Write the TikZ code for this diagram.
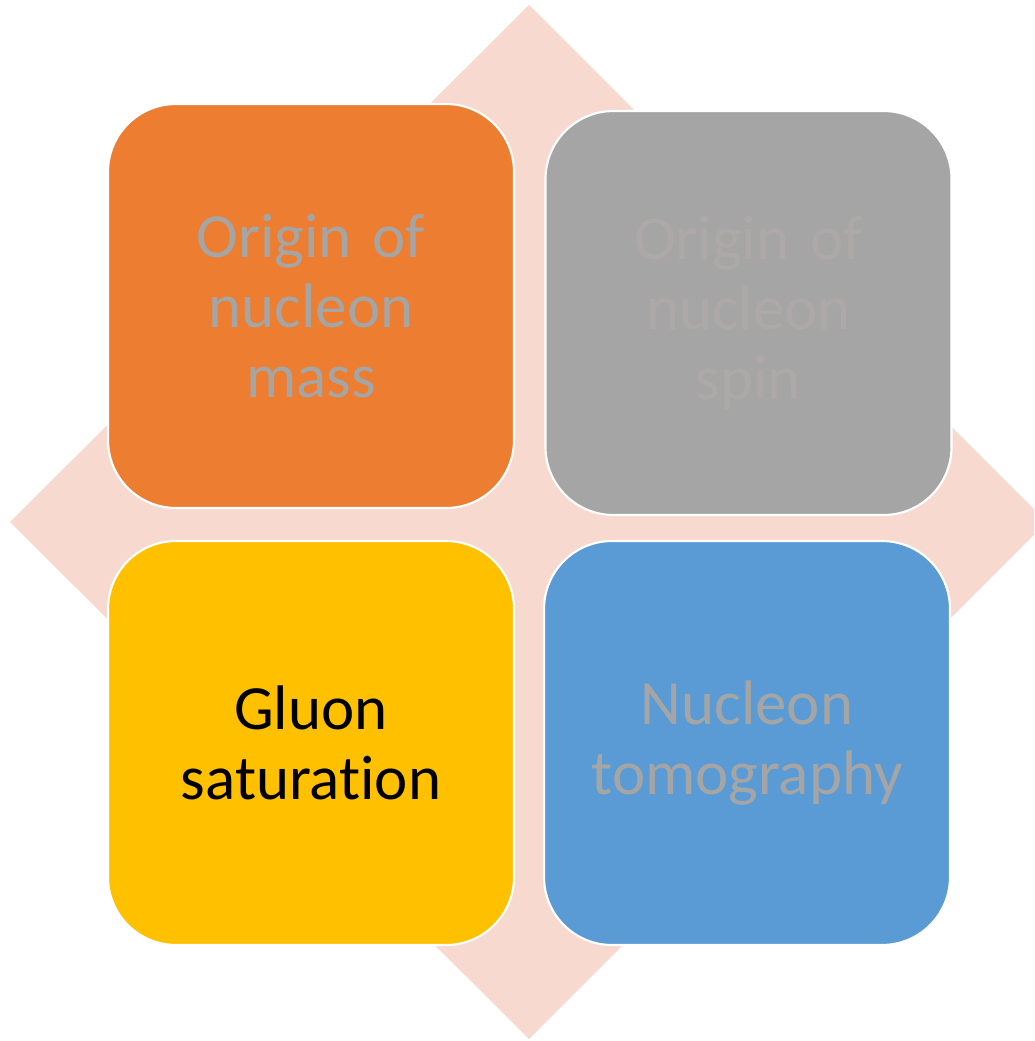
\documentclass[tikz,border=0pt]{standalone}
\usepackage{fontspec}
\setmainfont[Ligatures=NoCommon,WordSpace=0.85]{Carlito}
\definecolor{diam}{HTML}{F8D9CF}
\definecolor{orng}{HTML}{ED7D31}
\definecolor{gry}{HTML}{A5A5A5}
\definecolor{yel}{HTML}{FFC000}
\definecolor{blu}{HTML}{5B9BD5}
\definecolor{txtgray}{HTML}{A5A5A5}
\definecolor{txtgray2}{HTML}{AEA9A9}
\begin{document}
\begin{tikzpicture}[x=0.75pt,y=-0.75pt,
  tile/.style={draw=white,line width=1.6pt,rounded corners=51pt,
    minimum width=304.5pt,minimum height=303pt,text width=290pt,align=center,
    font=\fontsize{47.2pt}{52.5pt}\selectfont,inner sep=0pt}]
\useasboundingbox (0,0) rectangle (1034,1041);
\begin{scope}
\clip (0,0) rectangle (1034,1041);
\fill[diam] (529,5) -- (1047,522) -- (529,1039) -- (10,522) -- cycle;
\end{scope}
\node[tile,fill=orng,text=txtgray] (mass) at (311,306) {Origin of\\nucleon\\mass};
\node[tile,fill=gry,text=txtgray2] (spin) at (748.5,313) {Origin of\\nucleon\\spin};
\node[tile,fill=yel,text=black] (glu) at (311,743) {Gluon\\saturation};
\node[tile,fill=blu,text=txtgray] (tomo) at (747,743) {Nucleon\\tomography};
\end{tikzpicture}
\end{document}
